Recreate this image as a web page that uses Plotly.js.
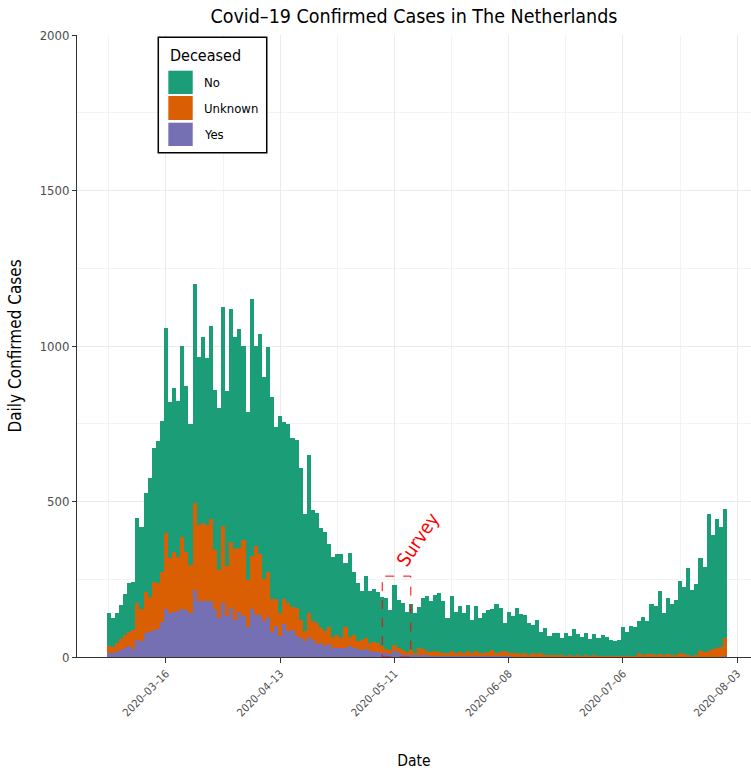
<!DOCTYPE html>
<html>
<head>
<meta charset="utf-8">
<script src="https://cdn.plot.ly/plotly-3.0.1.min.js"></script>
<style>html,body{margin:0;padding:0;background:#fff;}#chart{width:751px;height:770px;}</style>
</head>
<body>
<div id="chart"></div>
<script>
// ---- data ----
const startDate = '2020-03-02';   // first day with a bar; one bar per consecutive day
const seriesNames = ['Yes', 'Unknown', 'No'];
const deceasedYes = [12,14,17,23,28,35,25,55,52,78,81,87,89,114,153,142,146,149,153,150,140,217,180,180,180,180,
  153,124,173,133,157,119,146,133,97,153,135,135,116,128,79,101,68,106,84,87,68,62,53,65,
  55,42,44,35,42,28,30,28,28,35,28,25,22,25,20,17,17,14,12,11,
  18,12,8,6,6,5,6,5,5,4,4,4,3,3,3,3,3,2,2,2,2,2,2,2,2,2,2,2,2,
  1,1,1,1,1,1,1,1,1,1,1,1,1,1,0,1,0,0,0,0,1,0,
  0,0,0,0,0,0,0,0,0,1,0,0,1,0,0,1,0,0,0,1,0,0,0,1,0,1,1,0,1,1,2];
const deceasedUnknown = [23,19,27,34,43,46,62,118,101,132,113,155,148,160,245,175,193,174,234,187,156,277,244,252,244,264,
  191,156,249,160,214,227,205,243,151,172,222,196,134,146,107,85,72,80,91,75,89,57,32,75,
  61,68,48,50,53,37,41,34,69,30,43,27,33,37,24,32,27,21,13,11,
  22,16,14,11,19,9,22,20,15,13,16,13,11,9,17,11,14,12,18,12,18,12,10,15,20,12,15,18,12,
  11,13,9,11,7,11,9,11,5,4,7,4,5,3,6,3,5,4,5,3,4,4,
  4,4,4,4,4,4,4,4,4,11,8,10,9,8,10,7,10,6,8,11,10,6,4,7,18,15,19,25,27,31,58];
const deceasedNo = [107,93,96,110,131,156,155,273,266,318,381,431,459,485,659,504,525,501,613,535,453,705,542,598,536,620,
  515,522,702,563,747,682,704,624,539,826,643,707,651,722,649,553,635,571,573,541,541,488,374,510,
  357,352,322,318,267,255,260,268,206,271,201,186,157,198,168,171,165,159,165,129,
  190,154,153,129,147,126,134,164,176,164,179,188,167,112,176,132,147,126,147,105,144,110,128,134,131,156,141,90,131,
  121,145,127,123,102,91,109,69,86,64,68,71,54,74,63,86,69,61,71,54,69,56,
  67,61,51,48,51,91,77,97,93,105,120,107,162,156,202,135,179,166,175,233,216,279,211,227,299,274,439,367,415,385,415];
const tickDates = ['2020-03-16','2020-04-13','2020-05-11','2020-06-08','2020-07-06','2020-08-03'];
const tickLabels = ['2020–03–16','2020–04–13','2020–05–11','2020–06–08','2020–07–06','2020–08–03'];
const yTicks = [0, 500, 1000, 1500, 2000];
const surveyStart = '2020-05-08';
const surveyEnd = '2020-05-15';
const surveyHeight = 260;

// ---- build consecutive daily dates ----
function dayList(start, n) {
  const out = [];
  const d0 = new Date(start + 'T00:00:00Z');
  for (let i = 0; i < n; i++) {
    const d = new Date(d0.getTime() + i * 86400000);
    out.push(d.toISOString().slice(0, 10));
  }
  return out;
}
const dates = dayList(startDate, deceasedNo.length);

const colors = {Yes: '#7570B3', Unknown: '#D95F02', No: '#1B9E77'};
const values = {Yes: deceasedYes, Unknown: deceasedUnknown, No: deceasedNo};

const traces = seriesNames.map(name => ({
  type: 'bar',
  name: name,
  x: dates,
  y: values[name],
  marker: {color: colors[name], line: {width: 0}},
  hoverinfo: 'x+y+name'
}));

const FONT = 'DejaVu Sans Condensed, DejaVu Sans, sans-serif';

// ---- legend drawn in paper coordinates (ggplot-style box with large keys) ----
const legendOrder = seriesNames.slice().reverse();   // No, Unknown, Yes (top to bottom)
const legendBox = {x0: 0.1206, x1: 0.2815, y0: 0.8108, y1: 0.9963};
const keyX = [0.1355, 0.1717];
const keyY = [[0.9426, 0.9051], [0.9019, 0.8633], [0.8590, 0.8215]];
const legendShapes = [{
  type: 'rect', xref: 'paper', yref: 'paper',
  x0: legendBox.x0, x1: legendBox.x1, y0: legendBox.y0, y1: legendBox.y1,
  line: {color: '#000', width: 1.5}, fillcolor: '#fff', layer: 'above'
}].concat(legendOrder.map((name, i) => ({
  type: 'rect', xref: 'paper', yref: 'paper',
  x0: keyX[0], x1: keyX[1], y0: keyY[i][1], y1: keyY[i][0],
  line: {width: 0}, fillcolor: colors[name], layer: 'above'
})));
const legendAnnotations = [{
  xref: 'paper', yref: 'paper', x: 0.1345, y: 0.9678, xanchor: 'left', yanchor: 'middle',
  text: 'Deceased', showarrow: false, font: {size: 16, family: FONT, color: '#000'}
}].concat(legendOrder.map((name, i) => ({
  xref: 'paper', yref: 'paper', x: 0.1850, y: (keyY[i][0] + keyY[i][1]) / 2,
  xanchor: 'left', yanchor: 'middle', text: name, showarrow: false,
  font: {size: 13, family: FONT, color: '#000'}
})));

const layout = {
  width: 751, height: 770,
  margin: {l: 77, r: 0, t: 35, b: 113, pad: 0},
  paper_bgcolor: '#fff', plot_bgcolor: '#fff',
  barmode: 'stack', bargap: 0,
  showlegend: false,
  font: {family: FONT, color: '#000'},
  title: {text: 'Covid–19 Confirmed Cases in The Netherlands', font: {size: 19.5, family: FONT, color: '#000'},
          xref: 'paper', x: 0.5, xanchor: 'center', yref: 'container', y: 0.979, yanchor: 'middle'},
  xaxis: {
    type: 'date',
    range: ['2020-02-23 04:33', '2020-08-06 09:07'],
    tickmode: 'array', tickvals: tickDates, ticktext: tickLabels,
    tickangle: -45, tickfont: {size: 11, color: '#4d4d4d', family: FONT},
    ticks: 'outside', ticklen: 5, tickcolor: '#333', tickwidth: 1,
    showline: true, linecolor: '#333', linewidth: 1,
    showgrid: true, gridcolor: '#ebebeb', gridwidth: 1,
    minor: {tickmode: 'linear', tick0: '2020-03-02', dtick: 1209600000, showgrid: true, gridcolor: '#f3f3f3', gridwidth: 1},
    zeroline: false, fixedrange: true, automargin: false,
    title: {text: 'Date', font: {size: 15.5, family: FONT, color: '#000'}, standoff: 38}
  },
  yaxis: {
    range: [0, 2000],
    tickmode: 'array', tickvals: yTicks,
    tickfont: {size: 13, color: '#4d4d4d', family: FONT},
    ticks: 'outside', ticklen: 4, tickcolor: '#333', tickwidth: 1,
    showline: true, linecolor: '#333', linewidth: 1,
    showgrid: true, gridcolor: '#ebebeb', gridwidth: 1,
    minor: {dtick: 250, showgrid: true, gridcolor: '#f3f3f3', gridwidth: 1},
    zeroline: false, fixedrange: true, automargin: false,
    title: {text: 'Daily Confirmed Cases', font: {size: 17, family: FONT, color: '#000'}, standoff: 13}
  },
  shapes: [{
    type: 'rect', xref: 'x', yref: 'y', x0: surveyStart, x1: surveyEnd, y0: 0, y1: surveyHeight,
    line: {color: 'red', width: 1, dash: 'dash'}, fillcolor: 'rgba(0,0,0,0)', layer: 'above'
  }].concat(legendShapes),
  annotations: [{
    xref: 'x', yref: 'y', x: '2020-05-16 18:00', y: 378, text: 'Survey', showarrow: false,
    textangle: -56, font: {size: 19, color: 'red', family: FONT}
  }].concat(legendAnnotations)
};

Plotly.newPlot('chart', traces, layout, {displayModeBar: false, staticPlot: true});
</script>
</body>
</html>
